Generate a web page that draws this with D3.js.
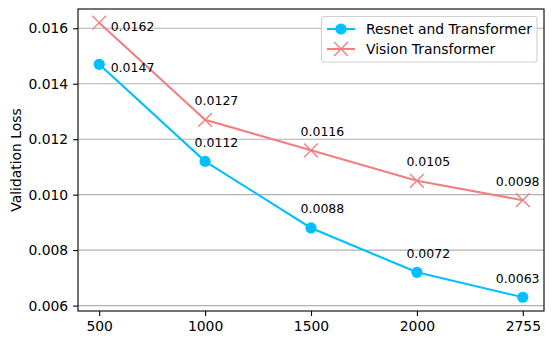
<!DOCTYPE html>
<html>
<head>
<meta charset="utf-8">
<script src="https://cdn.jsdelivr.net/npm/d3@7"></script>
<style>
  body { margin: 0; background: #fff; }
  svg { font-family: "DejaVu Sans", sans-serif; }
</style>
</head>
<body>
<div id="chart"></div>
<script>
// data
var steps = ["500", "1000", "1500", "2000", "2755"];
var resnetLoss = [0.0147, 0.0112, 0.0088, 0.0072, 0.0063];
var vitLoss = [0.0162, 0.0127, 0.0116, 0.0105, 0.0098];
var yTicks = [0.006, 0.008, 0.010, 0.012, 0.014, 0.016];

var width = 553, height = 345;
var margin = {left: 78, right: 9, top: 9, bottom: 34};

var svg = d3.select("#chart").append("svg")
    .attr("width", width)
    .attr("height", height);

var x = d3.scaleLinear()
    .domain([-0.2, steps.length - 1 + 0.2])
    .range([margin.left, width - margin.right]);

var y = d3.scaleLinear()
    .domain([0.005805, 0.016695])
    .range([height - margin.bottom, margin.top]);

// grid
svg.append("g")
    .selectAll("line")
    .data(yTicks)
    .enter().append("line")
    .attr("x1", margin.left)
    .attr("x2", width - margin.right)
    .attr("y1", function(d){ return y(d); })
    .attr("y2", function(d){ return y(d); })
    .style("stroke", "#b0b0b0")
    .style("stroke-width", 1.1);

// axes
var xAxis = d3.axisBottom(x)
    .tickValues(d3.range(steps.length))
    .tickFormat(function(i){ return steps[i]; })
    .tickSize(4.9).tickPadding(4.9);
var yAxis = d3.axisLeft(y)
    .tickValues(yTicks)
    .tickFormat(d3.format(".3f"))
    .tickSize(4.9).tickPadding(4.9);

var gx = svg.append("g")
    .attr("transform", "translate(0," + (height - margin.bottom) + ")")
    .call(xAxis);
var gy = svg.append("g")
    .attr("transform", "translate(" + margin.left + ",0)")
    .call(yAxis);

[gx, gy].forEach(function(g){
  g.select(".domain").remove();
  g.selectAll(".tick line").style("stroke", "#000").style("stroke-width", 1.1);
  g.selectAll(".tick text")
    .style("font-size", "13.9px")
    .style("font-family", "DejaVu Sans")
    .style("fill", "#000");
});

// frame
svg.append("rect")
    .attr("x", margin.left)
    .attr("y", margin.top)
    .attr("width", width - margin.left - margin.right)
    .attr("height", height - margin.top - margin.bottom)
    .style("fill", "none")
    .style("stroke", "#000")
    .style("stroke-width", 1.1);

svg.append("text")
    .attr("transform", "translate(21," + ((margin.top + height - margin.bottom) / 2) + ") rotate(-90)")
    .attr("text-anchor", "middle")
    .style("font-size", "13.9px")
    .text("Validation Loss");

var line = d3.line()
    .x(function(d, i){ return x(i); })
    .y(function(d){ return y(d); });

var blue = "#00bfff", red = "#f08080";

// Resnet and Transformer
svg.append("path")
    .datum(resnetLoss)
    .attr("d", line)
    .style("fill", "none")
    .style("stroke", blue)
    .style("stroke-width", 2.1);

svg.append("g").selectAll("circle")
    .data(resnetLoss)
    .enter().append("circle")
    .attr("cx", function(d, i){ return x(i); })
    .attr("cy", function(d){ return y(d); })
    .attr("r", 5.6)
    .style("fill", blue);

// Vision Transformer
svg.append("path")
    .datum(vitLoss)
    .attr("d", line)
    .style("fill", "none")
    .style("stroke", red)
    .style("stroke-width", 2.1);

var cross = function(cx, cy, s){
  return "M" + (cx - s) + "," + (cy - s) + "L" + (cx + s) + "," + (cy + s) +
         "M" + (cx - s) + "," + (cy + s) + "L" + (cx + s) + "," + (cy - s);
};

svg.append("g").selectAll("path")
    .data(vitLoss)
    .enter().append("path")
    .attr("d", function(d, i){ return cross(x(i), y(d), 6.9); })
    .style("stroke", red)
    .style("stroke-width", 1.4)
    .style("fill", "none");

// value labels: first one to the right, last one pulled left, rest above
function labels(vals){
  var last = vals.length - 1;
  svg.append("g").selectAll("text")
    .data(vals)
    .enter().append("text")
    .attr("x", function(d, i){
      if (i == 0) return x(i) + 11.5;
      if (i == last) return x(i) - 27;
      return x(i) - 10.5;
    })
    .attr("y", function(d, i){ return i == 0 ? y(d) + 8 : y(d) - 14.5; })
    .style("font-size", "12.5px")
    .text(function(d){ return d3.format(".4f")(d); });
}
labels(resnetLoss);
labels(vitLoss);

// legend
var lg = svg.append("g").attr("transform", "translate(321.5,16.5)");
lg.append("rect")
    .attr("width", 215.5)
    .attr("height", 45.5)
    .attr("rx", 2.8)
    .style("fill", "#fff")
    .style("fill-opacity", 0.8)
    .style("stroke", "#d0d0d0")
    .style("stroke-width", 1.1);

lg.append("line")
    .attr("x1", 5.5).attr("x2", 33.5).attr("y1", 12.5).attr("y2", 12.5)
    .style("stroke", blue).style("stroke-width", 2.1);
lg.append("circle")
    .attr("cx", 19.5).attr("cy", 12.5).attr("r", 5.6)
    .style("fill", blue);
lg.append("text")
    .attr("x", 44.5).attr("y", 17.5)
    .style("font-size", "13.9px")
    .text("Resnet and Transformer");

lg.append("line")
    .attr("x1", 5.5).attr("x2", 33.5).attr("y1", 32.5).attr("y2", 32.5)
    .style("stroke", red).style("stroke-width", 2.1);
lg.append("path")
    .attr("d", cross(19.5, 32.5, 6.9))
    .style("stroke", red).style("stroke-width", 1.4);
lg.append("text")
    .attr("x", 44.5).attr("y", 37.5)
    .style("font-size", "13.9px")
    .text("Vision Transformer");
</script>
</body>
</html>
